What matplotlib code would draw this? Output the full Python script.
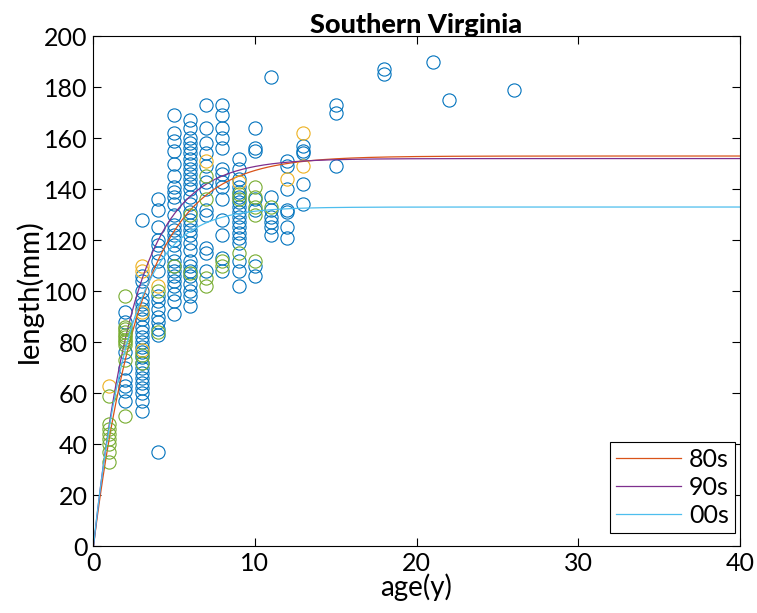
import numpy as np
import matplotlib
matplotlib.use('Agg')
import matplotlib.pyplot as plt

plt.rcParams['font.family'] = ['Lato', 'DejaVu Sans']

# 80s samples (age in years, length in mm)
age80 = [2]*8 + [3]*25 + [4]*16 + [5]*26 + [6]*30 + [7]*12 + [8]*14 + [9]*18 + \
        [10]*7 + [11]*7 + [12]*7 + [13]*5 + [15]*3 + [18]*2 + [21, 22, 26]
len80 = [92, 88, 76, 70, 65, 63, 61, 57,
         128, 106, 104, 100, 97, 95, 93, 91, 89, 86, 84, 82, 80, 78, 76, 74, 72, 70, 68, 66, 64, 62, 60, 57, 53,
         136, 132, 125, 120, 118, 115, 112, 108, 98, 96, 93, 90, 88, 85, 83, 37,
         169, 162, 159, 155, 150, 145, 141, 139, 137, 134, 130, 126, 124, 122, 120, 118, 115, 112, 110, 108,
         106, 104, 102, 99, 96, 91,
         167, 164, 160, 158, 156, 154, 152, 150, 148, 146, 144, 142, 140, 137, 134, 131, 128, 126, 124, 122,
         119, 116, 112, 110, 108, 106, 103, 100, 98, 94,
         173, 164, 158, 154, 149, 143, 140, 132, 130, 117, 115, 108,
         173, 169, 164, 160, 156, 148, 146, 143, 141, 136, 128, 122, 113, 108,
         152, 148, 144, 141, 139, 137, 135, 133, 131, 129, 127, 125, 123, 121, 119, 112, 108, 102,
         164, 156, 155, 136, 132, 110, 106,
         184, 137, 132, 129, 127, 125, 122,
         151, 149, 140, 132, 131, 125, 121,
         157, 155, 154, 142, 134,
         173, 170, 149,
         187, 185,
         190, 175, 179]

# 90s samples
age90 = [1, 3, 3, 3, 3, 4, 7, 9, 12, 13, 13]
len90 = [63, 110, 108, 92, 77, 102, 151, 143, 144, 162, 149]

# 00s samples
age00 = [1]*8 + [2]*11 + [3]*2 + [4]*2 + [5] + [6]*2 + [7]*4 + [8]*2 + [9]*3 + [10]*5 + [11]
len00 = [59, 48, 46, 44, 42, 40, 37, 33,
         98, 86, 85, 84, 83, 82, 81, 80, 79, 73, 51,
         75, 72,
         100, 84,
         110,
         130, 107,
         145, 136, 105, 102,
         110, 112,
         115, 138, 136,
         141, 137, 133, 130, 112,
         133]

# von Bertalanffy fit parameters: Linf, k, t0
fit80 = (153.0, 0.33, 0.02)
fit90 = (152.0, 0.39, 0.03)
fit00 = (133.0, 0.44, 0.02)

def vb(t, p):
    linf, k, t0 = p
    return linf * (1 - np.exp(-k * (t - t0)))

fig = plt.figure(figsize=(7.57, 6.13), dpi=100)
ax = fig.add_axes([0.123, 0.109, 0.8545, 0.832])

ms = 9.5
ax.plot(age80, len80, 'o', mfc='none', mec='#0072BD', ms=ms, mew=0.8)
t = np.linspace(fit80[2], 40, 400)
l1, = ax.plot(t, vb(t, fit80), color='#D95319', lw=0.9)
ax.plot(age90, len90, 'o', mfc='none', mec='#EDB120', ms=ms, mew=0.8)
t = np.linspace(fit90[2], 40, 400)
l2, = ax.plot(t, vb(t, fit90), color='#7E2F8E', lw=0.9)
ax.plot(age00, len00, 'o', mfc='none', mec='#77AC30', ms=ms, mew=0.8)
t = np.linspace(fit00[2], 40, 400)
l3, = ax.plot(t, vb(t, fit00), color='#4DBEEE', lw=0.9)

ax.set_xlim(0, 40)
ax.set_ylim(0, 200)
ax.set_xticks(range(0, 41, 10))
ax.set_yticks(range(0, 201, 20))
ax.tick_params(direction='in', top=True, right=True, labelsize=18, length=6, width=0.8, pad=4)
for s in ax.spines.values():
    s.set_linewidth(0.8)
ax.set_xlabel('age(y)', fontsize=20, labelpad=-1)
ax.set_ylabel('length(mm)', fontsize=21, labelpad=1)
ax.set_title('Southern Virginia', fontsize=19.5, fontweight='black', pad=2)

leg = ax.legend([l1, l2, l3], ['80s', '90s', '00s'], loc='lower right', fontsize=18,
                bbox_to_anchor=(0.9923, 0.0255), borderaxespad=0,
                fancybox=False, framealpha=1, edgecolor='black', handlelength=2.6,
                labelspacing=0.2, borderpad=0.25, handletextpad=0.3)
leg.get_frame().set_linewidth(0.8)

fig.savefig('out.png', dpi=100)
